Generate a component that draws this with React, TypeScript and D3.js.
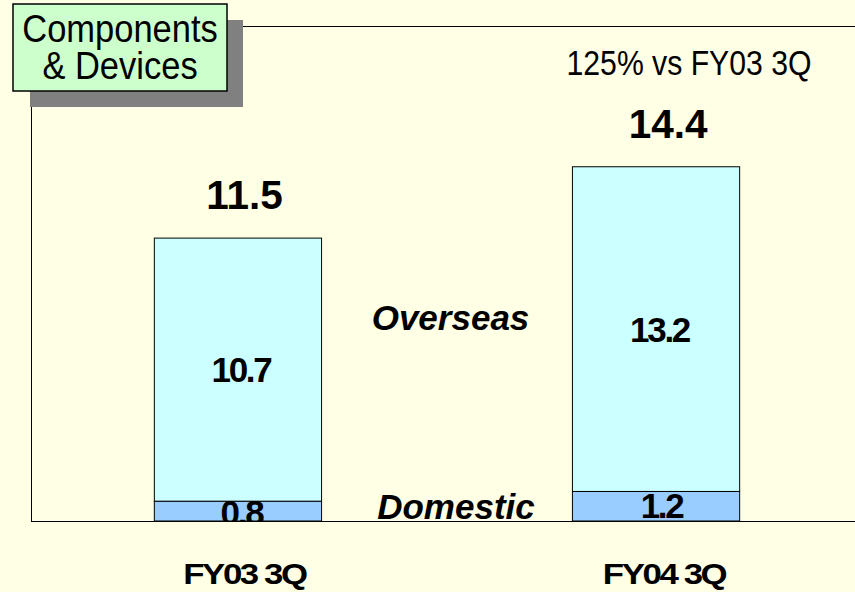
import React from "react";
import * as d3 from "d3";

const categories = ["FY03 3Q", "FY04 3Q"];
const domestic = [0.8, 1.2];
const overseas = [10.7, 13.2];
const totals = [11.5, 14.4];
const seriesNames = ["Overseas", "Domestic"];
const titleLines = ["Components", "& Devices"];
const note = "125% vs FY03 3Q";

const W = 855;
const H = 592;
const FONT = "'Liberation Sans', Arial, sans-serif";

export default function App() {
  const x = d3
    .scaleBand<string>()
    .domain(categories)
    .range([31, 863])
    .paddingInner(0.6)
    .paddingOuter(0.295);
  const y = d3.scaleLinear().domain([0, 20]).range([521, 29]);
  const bw = x.bandwidth();

  return (
    <svg
      width={W}
      height={H}
      style={{ position: "absolute", left: 0, top: 0, background: "#FFFFE6" }}
    >
      <defs>
        <clipPath id="plotClip">
          <rect x={0} y={0} width={W} height={521} />
        </clipPath>
      </defs>
      <rect x={0} y={0} width={W} height={H} fill="#FFFFE6" />
      {/* frame */}
      <line x1={31.5} y1={106} x2={31.5} y2={521} stroke="#000" strokeWidth={1} />
      <line x1={243} y1={26.5} x2={W} y2={26.5} stroke="#000" strokeWidth={1} />

      {/* bars */}
      {categories.map((c, i) => {
        const x0 = x(c)!;
        const d0 = y(0);
        const d1 = y(domestic[i]);
        const o1 = y(domestic[i] + overseas[i]);
        return (
          <g key={c}>
            <rect x={x0} y={o1} width={bw} height={d1 - o1} fill="#CCFFFF" stroke="#000" strokeWidth={1} />
            <rect x={x0} y={d1} width={bw} height={d0 - d1} fill="#99CCFF" stroke="#000" strokeWidth={1} />
          </g>
        );
      })}

      {/* segment labels */}
      {categories.map((c, i) => {
        const cx = x(c)! + bw / 2;
        const oMid = (y(domestic[i]) + y(domestic[i] + overseas[i])) / 2;
        const dMid = (y(0) + y(domestic[i])) / 2;
        return (
          <g key={"l" + c} fontFamily={FONT} fontWeight="bold" textAnchor="middle" fill="#000">
            <text x={cx + 3 + i * 0.5} y={oMid + 12.5} fontSize={35} letterSpacing={-2.3}>
              {overseas[i].toFixed(1)}
            </text>
            <text
              x={cx + 3.5 + i * 2}
              y={i === 0 ? dMid + 14 : dMid + 12}
              fontSize={35}
              letterSpacing={-2.3}
              clipPath="url(#plotClip)"
            >
              {domestic[i].toFixed(1)}
            </text>
            <text x={cx + 6.5 + i * 5.5} y={y(totals[i]) - 29} fontSize={40.5}>
              {totals[i].toFixed(1)}
            </text>
            <text
              transform={`translate(${cx + 6.5 + i * 1.5},584) scale(1.2,1)`}
              fontSize={29}
              letterSpacing={-2}
            >
              {c}
            </text>
          </g>
        );
      })}
      <line x1={31} y1={521.5} x2={W} y2={521.5} stroke="#000" strokeWidth={1.2} />

      {/* series names */}
      <g fontFamily={FONT} fontWeight="bold" fontStyle="italic" textAnchor="middle" fontSize={35}>
        <text x={450.5} y={330}>{seriesNames[0]}</text>
        <text x={456} y={519}>{seriesNames[1]}</text>
      </g>

      {/* note */}
      <text
        transform="translate(689,75) scale(1,1.16)"
        fontFamily={FONT}
        fontSize={30.2}
        textAnchor="middle"
      >
        {note}
      </text>

      {/* title box */}
      <rect x={30} y={20} width={213} height={87} fill="#808080" />
      <rect x={13} y={4} width={214} height={87} fill="#CCFFCC" stroke="#000" strokeWidth={1.5} />
      {titleLines.map((t, i) => (
        <text
          key={t}
          transform={`translate(120,${42 + i * 37}) scale(1,1.14)`}
          fontFamily={FONT}
          fontSize={34.5}
          textAnchor="middle"
        >
          {t}
        </text>
      ))}
    </svg>
  );
}
